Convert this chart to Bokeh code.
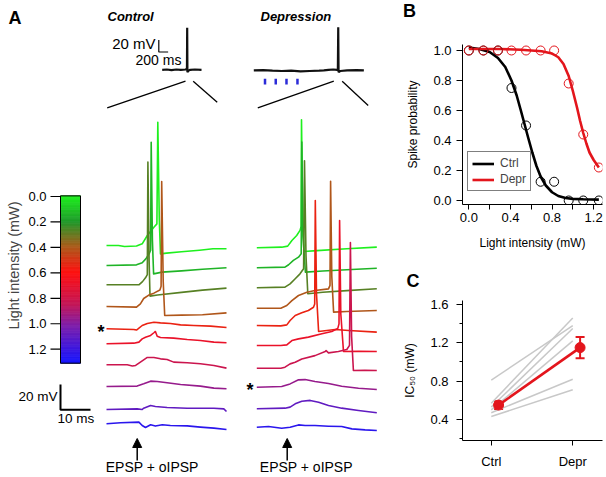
import math
from bokeh.plotting import figure
from bokeh.layouts import row, column
from bokeh.models import (Range1d, Label, Arrow, NormalHead, FixedTicker, Legend, LegendItem,
                          Whisker, ColumnDataSource, NumeralTickFormatter, TeeHead,
                          SingleIntervalTicker, Div)
from bokeh.core.properties import value
from bokeh.embed import file_html
from bokeh.resources import INLINE

FONT = "Liberation Sans"

# ---------------- DATA ----------------
# Panel B: spike probability vs light intensity
light_intensity = [0.0, 0.14, 0.28, 0.41, 0.55, 0.69, 0.82, 0.96, 1.10, 1.25]
ctrl_spike_prob = [1.0, 1.0, 1.0, 0.75, 0.5, 0.125, 0.125, 0.0, 0.0, 0.0]
depr_spike_prob = [1.0, 1.0, 1.0, 1.0, 1.0, 1.0, 1.0, 0.78, 0.44, 0.22]
ctrl_fit_x = [0.0, 0.1, 0.2, 0.28, 0.35, 0.41, 0.46, 0.5, 0.535, 0.57, 0.61, 0.65, 0.69,
              0.74, 0.8, 0.86, 0.93, 1.0, 1.1, 1.25]
ctrl_fit_y = [1.02, 1.01, 0.99, 0.95, 0.89, 0.80, 0.70, 0.60, 0.51, 0.42, 0.32, 0.23, 0.16,
              0.10, 0.055, 0.03, 0.017, 0.011, 0.008, 0.006]
depr_fit_x = [0.0, 0.3, 0.5, 0.7, 0.8, 0.86, 0.91, 0.96, 1.0, 1.04, 1.07, 1.1, 1.13, 1.16,
              1.2, 1.25]
depr_fit_y = [1.01, 1.01, 1.005, 0.995, 0.98, 0.955, 0.91, 0.83, 0.73, 0.62, 0.53, 0.45,
              0.38, 0.32, 0.27, 0.22]

# Panel C: IC50 per cell
groups = ["Ctrl", "Depr"]
group_x = [0, 1]
ic50_ctrl = [0.81, 0.57, 0.53, 0.50, 0.47, 0.43]
ic50_depr = [1.38, 1.46, 1.35, 1.22, 0.82, 0.71]
ic50_mean = [0.55, 1.15]
ic50_sem = [0.04, 0.11]

# Colour bar ticks (mW)
cbar_ticks = [0.0, 0.2, 0.4, 0.6, 0.8, 1.0, 1.2]
cbar_tick_labels = ["0.0", "0.2", "0.4", "0.6", "0.8", "1.0", "1.2"]

# Panel A: example traces (time ms, voltage mV relative to baseline)
ctrl_0_t = [0, 4, 6, 10, 11.9, 13.6, 15.8, 16.8, 17.1, 17.6, 18.0, 20, 25, 31, 35.5, 40]
ctrl_0_v = [0, 0, -0.8, -0.4, 1.3, 7.9, 14.4, 17, 97, 20, -6.6, -6.0, -4.9, -3.7, -2.6, -2.6]
ctrl_1_t = [0, 10, 11.9, 13.1, 14.2, 14.7, 14.9, 15.3, 15.7, 18.5, 25, 32, 40]
ctrl_1_v = [0, 0.5, 2.1, 5.2, 9.2, 12, 97, 20, -6.6, -5.2, -4.2, -3.0, -1.8]
ctrl_2_t = [0, 10.8, 12.0, 13.0, 13.6, 13.8, 14.2, 14.5, 17, 25, 32, 40]
ctrl_2_v = [0, 0, 2.5, 5.5, 8, 96.6, 20, -8.9, -8, -6, -4.2, -2.6]
ctrl_3_t = [0, 10, 11.3, 12.4, 14.1, 15.8, 17.8, 18.2, 18.4, 18.9, 19.4, 25, 32, 40]
ctrl_3_v = [0, -0.5, 2.1, 6.3, 9, 10.5, 13, 16, 98.4, 20, -7.1, -6.8, -6.5, -5]
ctrl_4_t = [0, 9.1, 10.0, 10.4, 11.9, 13.6, 15.8, 18, 21.3, 24.7, 29.1, 34.7, 40]
ctrl_4_v = [0, -0.5, -1.0, -0.3, 2.6, 4.2, 5.2, 4.7, 4.2, 3.1, 2.6, 2.1, 1.0]
ctrl_5_t = [0, 9.1, 10.8, 11.9, 13.0, 14.7, 15.8, 16.3, 16.9, 18, 22.4, 26.9, 31.3, 35.8, 40]
ctrl_5_v = [0, 0.5, 1.3, 3.9, 5.2, 6.6, 8.7, 9.7, 6.0, 5.0, 4.5, 3.4, 2.6, 1.3, 0.8]
ctrl_6_t = [0, 6.9, 8.6, 9.7, 11.3, 13.6, 15.8, 18, 20.2, 22.4, 26.9, 31.3, 35.8, 40]
ctrl_6_v = [0, 0, -1, -0.5, 2.1, 5.8, 5.8, 4.7, 4.2, 2.1, 1.6, 0.8, -0.5, -2.6]
ctrl_7_t = [0, 10.2, 12.4, 14.7, 16.9, 20.2, 24.7, 31.3, 35.8, 40]
ctrl_7_v = [0, 0.3, 2.1, 4.2, 3.9, 2.9, 1.6, 0.3, -1.3, -1.8]
ctrl_8_t = [0, 10.2, 11.9, 12.4, 14.7, 16.3, 20.2, 26.9, 35.8, 39.1, 40]
ctrl_8_v = [0, 0.5, 0, 1.0, 3.1, 2.4, 1.6, 1.0, 1.0, 0.5, -1.6]
ctrl_9_t = [0, 4.7, 10.8, 11.9, 13.0, 14.7, 16.3, 18.6, 21.3, 26.9, 31.3, 35.8, 40]
ctrl_9_v = [0, 0.8, 1.3, -1.3, -2.9, -0.8, -1.8, -0.8, -1.3, -1.6, -2.6, -3.4, -4.5]

dep_0_t = [0, 8.3, 10.3, 11.7, 13.3, 14.4, 14.8, 14.9, 15.3, 15.7, 20, 30, 40]
dep_0_v = [0, 0.5, 1.3, 5.8, 9.7, 13.7, 17, 100.8, 25, -2.9, -2.2, -0.8, 0.5]
dep_1_t = [0, 9.4, 10.6, 12.2, 13.9, 14.8, 15.0, 15.4, 16.2, 22, 30, 40]
dep_1_v = [0, 0.5, 2.4, 5.8, 8.4, 11, 99, 25, -3.4, -2.5, -1.5, -0.3]
dep_2_t = [0, 9.4, 11.1, 12.8, 14.4, 15.6, 15.9, 16.4, 17.0, 22, 30, 40]
dep_2_v = [0, 0.5, 3.1, 7.1, 11, 15, 100, 25, -4.7, -3.5, -2.2, -0.8]
dep_3_t = [0, 8, 10, 11.7, 13.9, 16.7, 19.4, 23.9, 24.4, 24.6, 25.0, 25.6, 30, 40]
dep_3_v = [0, 0, 2.1, 6, 10, 12.6, 13.9, 15.2, 18, 100, 25, -3.1, -2.6, -1.8]
dep_4_t = [0, 8, 10, 11.1, 12.8, 15, 17.2, 18.9, 19.3, 19.5, 19.9, 20.6, 26.1, 30.6, 40]
dep_4_v = [0, -0.3, 0.5, 3.9, 7.9, 10, 11.8, 14.4, 17, 98.4, 25, -4.7, -3.1, -3.9, -5.2]
dep_5_t = [0, 8, 10, 11.7, 13.9, 17.2, 21.7, 25, 27, 27.4, 27.6, 28.0, 28.9, 34, 40]
dep_5_v = [0, 0, 0.5, 3.9, 5.2, 6.6, 9.2, 11, 13.5, 17, 98.4, 25, -4.7, -4.5, -4.7]
dep_6_t = [0, 8, 9.4, 11.1, 12.8, 15, 19.4, 22.8, 23.1, 23.9, 27.2, 30, 30.9, 31.2, 31.6,
           32.2, 36, 40]
dep_6_v = [0, 0, 0.8, 3.4, 4.7, 7.3, 9.9, 13.1, 13.9, 12.1, 13.1, 14.7, 18, 99, 25, -1.8,
           -1.6, -1.8]
dep_7_t = [0, 8.3, 11.1, 13.9, 16.1, 19.4, 23.9, 28.3, 33.9, 40]
dep_7_v = [0, 0.5, 2.6, 5.8, 6.0, 4.5, 2.9, 0.8, -0.8, -1.8]
dep_8_t = [0, 9.4, 11.1, 12.8, 15, 17.8, 20.6, 23.9, 28.3, 33.9, 40]
dep_8_v = [0, 0.5, 1.3, 3.9, 6.0, 6.6, 5.2, 2.6, 0.5, -1.3, -3.1]
dep_9_t = [0, 3.9, 8.3, 11.1, 13.9, 16.1, 19.4, 23.9, 28.3, 31.7, 36.1, 40]
dep_9_v = [0, 0.5, -0.8, 0, 1.8, 1.3, 1.3, 0.8, 0.5, -1.3, -2.1, -2.6]

# Long inset recordings (ms, mV)
ins_ctrl_t = [0, 100, 200, 300, 400, 500, 525, 530, 535, 540, 560, 600, 700, 842]
ins_ctrl_v = [0, 0.5, -0.5, 0.5, 0, 0.5, 1.5, 3, 70, -4, -1.5, 0, 0.5, 0]
ins_dep_t = [0, 200, 400, 600, 800, 1000, 1200, 1400, 1500, 1600, 1700, 1780, 1800, 1808,
             1815, 1850, 2000, 2200, 2357]
ins_dep_v = [0, 0.5, -0.5, -1, -0.5, -1.5, -1, -0.5, 0, 1, 1.5, 1, 2, 72, -3, -1, 0, 0.5, 0]
stim_times = [240, 470, 700, 935]

ctrl_traces = [(ctrl_0_t, ctrl_0_v), (ctrl_1_t, ctrl_1_v), (ctrl_2_t, ctrl_2_v),
               (ctrl_3_t, ctrl_3_v), (ctrl_4_t, ctrl_4_v), (ctrl_5_t, ctrl_5_v),
               (ctrl_6_t, ctrl_6_v), (ctrl_7_t, ctrl_7_v), (ctrl_8_t, ctrl_8_v),
               (ctrl_9_t, ctrl_9_v)]
dep_traces = [(dep_0_t, dep_0_v), (dep_1_t, dep_1_v), (dep_2_t, dep_2_v),
              (dep_3_t, dep_3_v), (dep_4_t, dep_4_v), (dep_5_t, dep_5_v),
              (dep_6_t, dep_6_v), (dep_7_t, dep_7_v), (dep_8_t, dep_8_v),
              (dep_9_t, dep_9_v)]

# ---------------- LAYOUT / STYLE ----------------
RED = "#e3151c"
CMAP_POS = [0.0, 0.2, 0.4, 0.6, 0.85, 1.02, 1.31]
CMAP_COL = ["#1ef01e", "#1f9a2a", "#ac5a1a", "#ff1010", "#c41656", "#7d1eaa", "#1414ff"]


def _rgb(h):
    return tuple(int(h[i:i + 2], 16) for i in (1, 3, 5))


def cmap(v):
    v = min(max(v, CMAP_POS[0]), CMAP_POS[-1])
    for i in range(len(CMAP_POS) - 1):
        if v <= CMAP_POS[i + 1]:
            f = (v - CMAP_POS[i]) / (CMAP_POS[i + 1] - CMAP_POS[i])
            a, b = _rgb(CMAP_COL[i]), _rgb(CMAP_COL[i + 1])
            return "#%02x%02x%02x" % tuple(round(a[k] + (b[k] - a[k]) * f) for k in range(3))
    return CMAP_COL[-1]


trace_colors = [cmap(v) for v in light_intensity]

# pixel geometry of panel A (figure spans page px 0..400 x 0..477)
AW, AH = 400, 477
PX_MS, PX_MV = 3.0, 1.27
CTRL_X0, DEP_X0 = 106.0, 256.3
ctrl_base_px = [245, 265, 284.3, 306, 328.3, 343.3, 364.3, 386, 409, 423.3]
dep_base_px = [247.3, 267.3, 287.3, 307.7, 325, 345, 367.7, 386.7, 408.3, 426.7]
INS_MS, INS_MV = 0.0467, 0.6
INS_C_X0, INS_D_X0, INS_Y0 = 161.7, 253.3, 69.0
CB_Y0, CB_PX = 196.0, 127.25

pA = figure(width=AW, height=AH, x_range=Range1d(0, AW), y_range=Range1d(AH, 0),
            x_axis_location=None, y_axis_location=None, toolbar_location=None,
            output_backend="svg", min_border=0, outline_line_color=None)
pA.grid.visible = False
pA.extra_x_ranges = {
    "tc": Range1d(-CTRL_X0 / PX_MS, (AW - CTRL_X0) / PX_MS),
    "td": Range1d(-DEP_X0 / PX_MS, (AW - DEP_X0) / PX_MS),
    "ic": Range1d(-INS_C_X0 / INS_MS, (AW - INS_C_X0) / INS_MS),
    "id": Range1d(-INS_D_X0 / INS_MS, (AW - INS_D_X0) / INS_MS),
}
pA.extra_y_ranges = {
    "mv": Range1d(0, AH / PX_MV),
    "im": Range1d(-(AH - INS_Y0) / INS_MV, INS_Y0 / INS_MV),
    "mw": Range1d((AH - CB_Y0) / CB_PX, -CB_Y0 / CB_PX),
}

# colour bar
n_band = 132
edges = [-0.005 + (1.31 + 0.005) * k / n_band for k in range(n_band + 1)]
band_cols = [cmap((edges[k] + edges[k + 1]) / 2) for k in range(n_band)]
pA.quad(left=60, right=80, bottom=edges[:-1], top=edges[1:], fill_color=band_cols,
        line_color=band_cols, line_width=0.8, y_range_name="mw")
pA.quad(left=60, right=80, bottom=[1.31], top=[-0.005], fill_color=None, line_color="black",
        line_width=1, y_range_name="mw")
pA.segment(x0=50, x1=60, y0=cbar_ticks, y1=cbar_ticks, line_color="black", line_width=1.2,
           y_range_name="mw")
pA.text(x=46, y=cbar_ticks, text=cbar_tick_labels, y_range_name="mw", text_align="right",
        text_baseline="middle", text_font=value(FONT), text_font_size="13px",
        text_color="black")
pA.add_layout(Label(x=13, y=265, text="Light intensity (mW)", angle=math.pi / 2,
                    text_align="center", text_baseline="middle", text_font=FONT,
                    text_font_size="14.5px"))

# traces
for i, (t, v) in enumerate(ctrl_traces):
    base = (AH - ctrl_base_px[i]) / PX_MV
    pA.line(t, [vv + base for vv in v], x_range_name="tc", y_range_name="mv",
            line_color=trace_colors[i], line_width=1.6, line_join="round")
for i, (t, v) in enumerate(dep_traces):
    base = (AH - dep_base_px[i]) / PX_MV
    pA.line(t, [vv + base for vv in v], x_range_name="td", y_range_name="mv",
            line_color=trace_colors[i], line_width=1.6, line_join="round")

# main scale bar: 20 mV / 10 ms
sx0 = (60 - CTRL_X0) / PX_MS
sy0 = (AH - 409.3) / PX_MV
pA.line([sx0, sx0, sx0 + 10], [sy0 + 20, sy0, sy0], x_range_name="tc", y_range_name="mv",
        line_color="black", line_width=2)

# insets
pA.line(ins_ctrl_t, [v - 0.5 for v in ins_ctrl_v], x_range_name="ic", y_range_name="im",
        line_color="#111111", line_width=2.2)
pA.line(ins_dep_t, [v - 1.5 for v in ins_dep_v], x_range_name="id", y_range_name="im",
        line_color="#111111", line_width=2.2)
pA.segment(x0=stim_times, x1=stim_times, y0=-15.5, y1=-25, x_range_name="id",
           y_range_name="im", line_color="#2b2bd8", line_width=2.5)
ix0 = (158.3 - INS_C_X0) / INS_MS
iy0 = (INS_Y0 - 51.5) / INS_MV
pA.line([ix0, ix0, ix0 + 200], [iy0 + 20, iy0, iy0], x_range_name="ic", y_range_name="im",
        line_color="black", line_width=1.2)

# zoom lines
pA.segment(x0=[106.7, 192.7, 257.3, 341.7], y0=[107.3, 80.7, 107.3, 80.7],
           x1=[185, 216.7, 333.3, 367.7], y1=[80.7, 101.7, 80.7, 105],
           line_color="black", line_width=1.3)

# arrows
for ax_ in (136.7, 286.7):
    pA.add_layout(Arrow(end=NormalHead(size=9, fill_color="black", line_color="black"),
                        x_start=ax_, y_start=460, x_end=ax_, y_end=438, line_width=1.5,
                        line_color="black"))


def lab(x, y, text, size, align="left", baseline="middle", style="normal"):
    pA.add_layout(Label(x=x, y=y, text=text, text_font=FONT, text_font_size=size,
                        text_align=align, text_baseline=baseline, text_font_style=style,
                        text_color="black"))


lab(8, 17, "A", "18px", baseline="alphabetic", style="bold")
lab(107, 16, "Control", "13px", style="bold italic")
lab(260, 16, "Depression", "13px", style="bold italic")
lab(155, 43, "20 mV", "15px", align="right")
lab(135, 59.5, "200 ms", "14px")
lab(57, 396, "20 mV", "13.5px", align="right")
lab(57, 418, "10 ms", "13.5px")
lab(151.7, 466, "EPSP + oIPSP", "14px", align="center")
lab(305.8, 466, "EPSP + oIPSP", "14px", align="center")
lab(100.5, 331.5, "*", "18px", align="center", style="bold")
lab(249.5, 389, "*", "18px", align="center", style="bold")


def style_axis(ax, tick_out=5):
    ax.axis_line_color = "black"
    ax.axis_line_width = 1
    ax.major_tick_line_color = "black"
    ax.minor_tick_line_color = "black"
    ax.major_tick_in = 0
    ax.major_tick_out = tick_out
    ax.minor_tick_in = 0
    ax.minor_tick_out = 0
    ax.major_label_text_font = FONT
    ax.major_label_text_font_size = "13px"
    ax.major_label_text_color = "black"
    ax.axis_label_text_font = FONT
    ax.axis_label_text_font_size = "12px"
    ax.axis_label_text_font_style = "normal"
    ax.axis_label_text_color = "black"


def panel_letter(p, text, offset, standoff):
    p.title.text = text
    p.title.align = "left"
    p.title.offset = offset
    p.title.text_font = FONT
    p.title.text_font_size = "18px"
    p.title.text_font_style = "bold"
    p.title.text_color = "black"
    if hasattr(p.title, "standoff"):
        p.title.standoff = standoff


# ---------------- Panel B letter ----------------
divB = Div(text="B", width=206, height=22,
           styles={"font-family": FONT, "font-size": "18px", "font-weight": "bold",
                   "line-height": "22px", "margin": "0", "padding": "0 0 0 3px",
                   "color": "black"})

# ---------------- Panel B ----------------
pB = figure(width=206, height=234, x_range=Range1d(-0.061, 1.285),
            y_range=Range1d(-0.0267, 1.04), toolbar_location=None, output_backend="svg",
            min_border_left=55, min_border_right=4, min_border_top=22, min_border_bottom=52,
            outline_line_color=None)
pB.grid.visible = False
r_ctrl = pB.line(ctrl_fit_x, ctrl_fit_y, line_color="black", line_width=2.6)
r_depr = pB.line(depr_fit_x, depr_fit_y, line_color=RED, line_width=2.6)
pB.scatter(light_intensity, ctrl_spike_prob, size=9, fill_color=None, line_color="black",
           line_width=1)
pB.scatter(light_intensity, depr_spike_prob, size=9, fill_color=None, line_color=RED,
           line_width=1)
style_axis(pB.xaxis[0], 5)
style_axis(pB.yaxis[0], 6)
pB.xaxis[0].ticker = FixedTicker(ticks=[0, 0.4, 0.8, 1.2], minor_ticks=[0.2, 0.6, 1.0])
pB.xaxis[0].minor_tick_out = 5
pB.xaxis[0].formatter = NumeralTickFormatter(format="0.0")
pB.xaxis[0].major_label_standoff = 3
pB.xaxis[0].axis_label = "Light intensity (mW)"
pB.xaxis[0].axis_label_standoff = 11
pB.yaxis[0].ticker = FixedTicker(ticks=[0, 0.2, 0.4, 0.6, 0.8, 1.0])
pB.yaxis[0].formatter = NumeralTickFormatter(format="0.0")
pB.yaxis[0].major_label_standoff = 5
pB.yaxis[0].axis_label = "Spike probability"
pB.yaxis[0].axis_label_standoff = 10
legend = Legend(items=[LegendItem(label="Ctrl", renderers=[r_ctrl]),
                       LegendItem(label="Depr", renderers=[r_depr])],
                location=(5, 13), border_line_color="black", border_line_width=1,
                background_fill_color="white", background_fill_alpha=1, padding=4,
                spacing=2, margin=0, glyph_width=22, glyph_height=13, label_height=13,
                label_standoff=6, label_text_font=FONT, label_text_font_size="12px")
pB.add_layout(legend)

# ---------------- Panel C ----------------
pC = figure(width=206, height=221, x_range=Range1d(-0.353, 1.365),
            y_range=Range1d(0.18, 1.642), toolbar_location=None, output_backend="svg",
            min_border_left=59, min_border_right=1, min_border_top=44, min_border_bottom=37,
            outline_line_color=None)
pC.grid.visible = False
pC.multi_line(xs=[group_x for _ in ic50_ctrl], ys=[[a, b] for a, b in zip(ic50_ctrl, ic50_depr)],
              line_color="#c8c8c8", line_width=1.5)
MEAN_DX = 0.09
mx = [g + MEAN_DX for g in group_x]
pC.line(mx, ic50_mean, line_color=RED, line_width=2.6)
src = ColumnDataSource(dict(x=mx, lower=[m - s for m, s in zip(ic50_mean, ic50_sem)],
                            upper=[m + s for m, s in zip(ic50_mean, ic50_sem)]))
pC.add_layout(Whisker(base="x", lower="lower", upper="upper", source=src, line_color=RED,
                      line_width=2,
                      upper_head=TeeHead(size=9, line_color=RED, line_width=2),
                      lower_head=TeeHead(size=9, line_color=RED, line_width=2)))
pC.scatter(mx, ic50_mean, size=10, fill_color=RED, line_color=RED)
style_axis(pC.xaxis[0], 5)
style_axis(pC.yaxis[0], 6)
pC.xaxis[0].ticker = FixedTicker(ticks=group_x)
pC.xaxis[0].major_label_overrides = {g: n for g, n in zip(group_x, groups)}
pC.xaxis[0].major_label_standoff = 8
pC.yaxis[0].ticker = SingleIntervalTicker(interval=0.4, num_minor_ticks=2)
pC.yaxis[0].minor_tick_out = 3
pC.yaxis[0].formatter = NumeralTickFormatter(format="0.0")
pC.yaxis[0].major_label_standoff = 8
pC.yaxis[0].axis_label = "IC\u2085\u2080 (mW)"
pC.yaxis[0].axis_label_standoff = 10
panel_letter(pC, "C", -56, 20)

layout = row(pA, column(divB, pB, pC))
open("out.html", "w").write(file_html(layout, INLINE))
